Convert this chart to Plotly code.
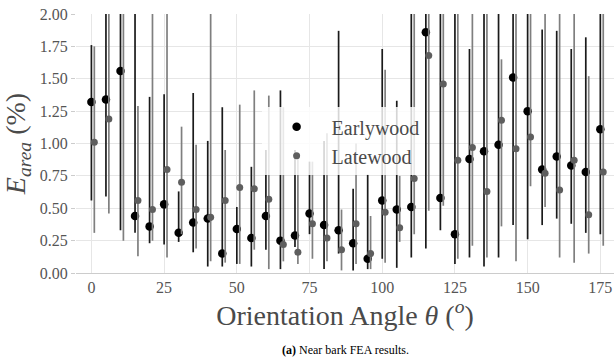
import plotly.graph_objects as go

# Orientation angles (degrees); latewood samples are plotted 1 degree to the right
angles = list(range(0, 180, 5))
late_offset = 1

# Earlywood: mean E_area (%) with upper / lower bounds of the spread
early_mean = [1.32, 1.34, 1.56, 0.44, 0.36, 0.53, 0.31, 0.39, 0.42, 0.15,
              0.34, 0.27, 0.44, 0.25, 0.29, 0.46, 0.37, 0.33, 0.23, 0.11,
              0.56, 0.49, 0.51, 1.86, 0.58, 0.30, 0.88, 0.94, 0.99, 1.51,
              1.25, 0.80, 0.90, 0.83, 0.78, 1.11]
early_upper = [1.76, 2.60, 2.70, 2.40, 1.36, 1.38, 0.63, 1.39, 1.02, 1.28,
               0.51, 0.82, 0.95, 1.41, 0.95, 0.86, 1.02, 1.87, 0.65, 0.76,
               1.73, 1.33, 2.40, 2.80, 2.50, 2.30, 1.73, 2.40, 2.50, 2.70,
               2.60, 1.88, 1.87, 1.73, 1.82, 2.40]
early_lower = [0.56, 0.59, 0.33, 0.31, 0.23, 0.22, 0.24, 0.16, 0.05, 0.05,
               0.07, 0.05, 0.18, 0.03, 0.20, 0.30, 0.03, 0.15, 0.02, 0.03,
               0.11, 0.04, 0.12, 0.19, 0.33, 0.07, 0.12, 0.05, 0.12, 0.37,
               0.26, 0.37, 0.42, 0.38, 0.31, 0.30]

# Latewood: mean E_area (%) with upper / lower bounds of the spread
late_mean = [1.01, 1.19, 2.20, 0.56, 0.49, 0.80, 0.70, 0.49, 0.43, 0.56,
             0.66, 0.65, 0.57, 0.22, 0.16, 0.38, 0.27, 0.18, 0.38, 0.15,
             0.47, 0.35, 0.73, 1.68, 1.46, 0.87, 0.97, 0.63, 1.18, 0.96,
             1.05, 0.77, 0.64, 0.87, 0.45, 0.78]
late_upper = [1.75, 2.40, 2.80, 1.29, 2.30, 2.50, 1.13, 0.99, 2.60, 0.95,
              1.30, 1.41, 1.37, 1.28, 0.90, 0.86, 1.08, 0.49, 1.00, 0.44,
              1.57, 0.75, 2.40, 2.60, 2.50, 2.30, 2.40, 2.30, 1.65, 2.40,
              2.50, 2.30, 2.30, 2.40, 1.52, 2.30]
late_lower = [0.31, 0.46, 0.25, 0.13, 0.25, 0.12, 0.30, 0.19, 0.09, 0.08,
              0.07, 0.18, 0.03, 0.09, 0.07, 0.11, 0.09, 0.02, 0.07, 0.03,
              0.08, 0.24, 0.30, 0.48, 0.52, 0.11, 0.21, 0.12, 0.36, 0.09,
              0.67, 0.51, 0.12, 0.08, 0.15, 0.21]

y_ticks = [0.0, 0.25, 0.5, 0.75, 1.0, 1.25, 1.5, 1.75, 2.0]
x_ticks = [0, 25, 50, 75, 100, 125, 150, 175]

SERIF = "Liberation Serif"


def spread(mean, upper, lower):
    plus = [u - m for m, u in zip(mean, upper)]
    minus = [m - l for m, l in zip(mean, lower)]
    return plus, minus


e_plus, e_minus = spread(early_mean, early_upper, early_lower)
l_plus, l_minus = spread(late_mean, late_upper, late_lower)

fig = go.Figure()
fig.add_trace(go.Scatter(
    x=angles, y=early_mean, mode="markers", name="Earlywood",
    marker=dict(color="#000000", size=8.5),
    error_y=dict(type="data", symmetric=False, array=e_plus, arrayminus=e_minus,
                 color="#1a1a1a", thickness=1.7, width=0),
))
fig.add_trace(go.Scatter(
    x=[a + late_offset for a in angles], y=late_mean, mode="markers", name="Latewood",
    marker=dict(color="#5e5e5e", size=7),
    error_y=dict(type="data", symmetric=False, array=l_plus, arrayminus=l_minus,
                 color="#7f7f7f", thickness=1.7, width=0),
))

fig.update_layout(
    width=614, height=364,
    margin=dict(l=76, r=0, t=14, b=91),
    paper_bgcolor="white", plot_bgcolor="white",
    font=dict(family=SERIF, color="#4a4a4a"),
    showlegend=True,
    legend=dict(
        x=0.345, y=0.64, xanchor="left", yanchor="top",
        bgcolor="rgba(255,255,255,0.82)", borderwidth=0,
        font=dict(family=SERIF, size=20, color="#4a4a4a"),
        itemwidth=60,
    ),
    xaxis=dict(
        range=[-5.3, 179.7], tickvals=x_ticks,
        tickfont=dict(family=SERIF, size=16, color="#555555"),
        showgrid=True, gridcolor="#e6e6e6", gridwidth=1,
        zeroline=False, showline=True, linecolor="#cccccc", linewidth=1,
        ticks="",
        title=dict(text="Orientation Angle <i>θ</i> (<sup><i>o</i></sup>)",
                   font=dict(family=SERIF, size=28, color="#4a4a4a"), standoff=8),
    ),
    yaxis=dict(
        range=[0, 2], tickvals=y_ticks, tickformat=".2f",
        tickfont=dict(family=SERIF, size=16, color="#555555"),
        showgrid=True, gridcolor="#e6e6e6", gridwidth=1,
        zeroline=False, showline=False,
        ticks="outside", ticklen=4, tickcolor="#cccccc",
        title=dict(text="<i>E</i><sub><i>area</i></sub> (%)",
                   font=dict(family=SERIF, size=28, color="#4a4a4a"), standoff=6),
    ),
    annotations=[dict(
        text="<b>(a)</b> Near bark FEA results.",
        xref="paper", yref="paper", x=0.5, y=-0.298,
        xanchor="center", yanchor="middle", showarrow=False,
        font=dict(family=SERIF, size=12, color="#000000"),
    )],
)

fig.write_html("out.html")
